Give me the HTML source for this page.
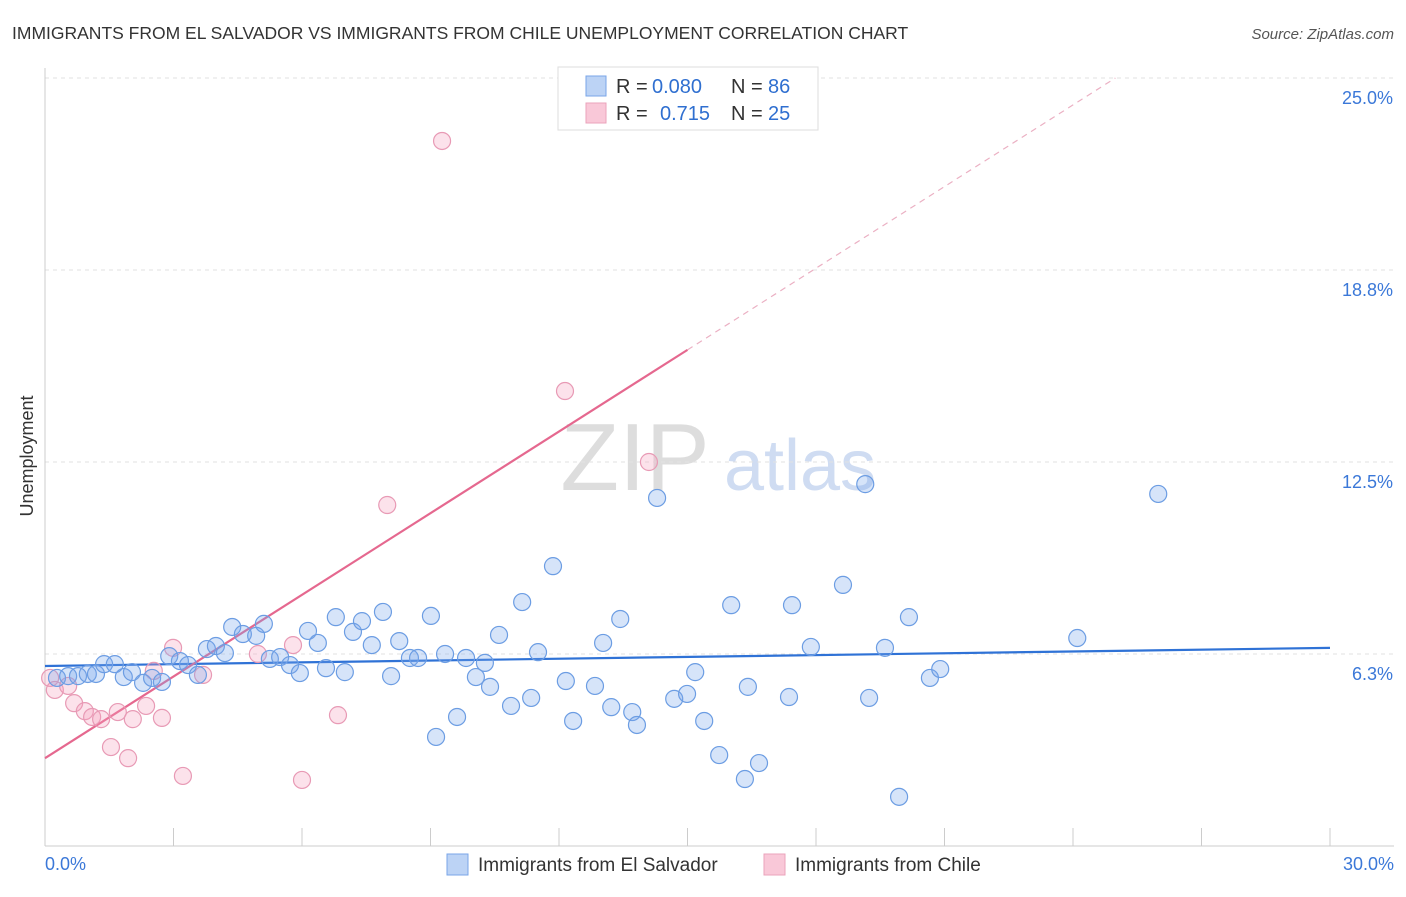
<!DOCTYPE html>
<html><head><meta charset="utf-8"><style>
body{margin:0;background:#fff;font-family:"Liberation Sans",sans-serif;}
svg text{font-family:"Liberation Sans",sans-serif;}
</style></head><body>
<svg id="chart" width="1406" height="892">
<text x="12" y="39" font-size="17.5" fill="#333">IMMIGRANTS FROM EL SALVADOR VS IMMIGRANTS FROM CHILE UNEMPLOYMENT CORRELATION CHART</text>
<text x="1394" y="39" font-size="15" fill="#555" font-style="italic" text-anchor="end">Source: ZipAtlas.com</text>
<text x="33" y="456" font-size="18" fill="#333" text-anchor="middle" transform="rotate(-90 33 456)">Unemployment</text>
<g><text x="635" y="490" font-size="96" fill="#ddd" font-family="Liberation Serif" text-anchor="middle">ZIP</text><text x="800" y="490" font-size="72" fill="#cfdcf2" text-anchor="middle">atlas</text></g>
<g id="grid"></g><g id="axes"></g><g id="trends"></g><g id="points"></g>
<g>
<rect x="558" y="67" width="260" height="63" fill="#fff" stroke="#ddd"/>
<rect x="586" y="76" width="20" height="20" fill="#bcd3f5" stroke="#7aa6e8"/>
<rect x="586" y="103" width="20" height="20" fill="#f9c8d8" stroke="#eba3bb"/>
<text x="616" y="93" font-size="20" fill="#333">R =</text>
<text x="652" y="93" font-size="20" fill="#2f6fd0">0.080</text>
<text x="731" y="93" font-size="20" fill="#333">N =</text>
<text x="768" y="93" font-size="20" fill="#2f6fd0">86</text>
<text x="616" y="120" font-size="20" fill="#333">R =</text>
<text x="660" y="120" font-size="20" fill="#2f6fd0">0.715</text>
<text x="731" y="120" font-size="20" fill="#333">N =</text>
<text x="768" y="120" font-size="20" fill="#2f6fd0">25</text>
</g>
<g>
<rect x="447" y="854" width="21" height="21" fill="#bcd3f5" stroke="#7aa6e8"/>
<text x="478" y="871" font-size="19" fill="#333">Immigrants from El Salvador</text>
<rect x="764" y="854" width="21" height="21" fill="#f9c8d8" stroke="#eba3bb"/>
<text x="795" y="871" font-size="19" fill="#333">Immigrants from Chile</text>
</g>
</svg>
<script>
const blueX=[0.28,0.54,0.77,1.00,1.19,1.38,1.63,1.84,2.03,2.29,2.50,2.73,2.90,3.15,3.34,3.57,3.78,3.99,4.20,4.37,4.62,4.93,5.11,5.25,5.49,5.72,5.95,6.14,6.37,6.56,6.79,7.00,7.19,7.40,7.63,7.89,8.08,8.27,8.52,8.71,9.01,9.13,9.34,9.62,9.83,10.06,10.27,10.39,10.60,10.88,11.14,11.35,11.51,11.86,12.16,12.33,12.84,13.03,13.22,13.43,13.71,13.82,14.29,14.69,14.99,15.18,15.39,15.74,16.02,16.34,16.41,16.67,17.37,17.44,17.88,18.63,19.15,19.24,19.61,19.94,20.17,20.66,20.90,24.10,25.99];
const blueY=[5.47,5.53,5.53,5.60,5.60,5.92,5.92,5.50,5.66,5.31,5.47,5.34,6.18,6.02,5.89,5.57,6.41,6.51,6.28,7.13,6.90,6.84,7.23,6.09,6.15,5.89,5.63,7.00,6.61,5.79,7.45,5.66,6.97,7.32,6.54,7.62,5.53,6.67,6.12,6.12,7.49,3.55,6.25,4.20,6.12,5.50,5.96,5.18,6.87,4.56,7.94,4.82,6.31,9.11,5.37,4.07,5.21,6.61,4.52,7.39,4.36,3.94,11.33,4.79,4.95,5.66,4.07,2.96,7.84,2.18,5.18,2.70,4.85,7.84,6.48,8.50,11.78,4.82,6.45,1.60,7.45,5.47,5.76,6.77,11.46];
const pinkX=[0.12,0.23,0.54,0.68,0.93,1.10,1.31,1.54,1.70,1.94,2.05,2.36,2.54,2.73,2.99,3.22,3.69,4.97,5.79,6.00,6.84,7.99,9.27,12.14,14.10];
const pinkY=[5.47,5.08,5.21,4.65,4.39,4.20,4.13,3.22,4.36,2.86,4.13,4.56,5.70,4.17,6.45,2.28,5.57,6.25,6.54,2.15,4.26,11.10,22.95,14.81,12.50];
const blueTrend=[5.86,6.45];
const pinkTrend=[2.86,16.15,25.0];
const pinkTrendX=[0,15,24.99];
const yTicks=[6.25,12.5,18.75,25.0];
const yTickLabels=["6.3%","12.5%","18.8%","25.0%"];
const xTicks=[0,3,6,9,12,15,18,21,24,27,30];
const NS="http://www.w3.org/2000/svg";
const X=v=>45+v*42.833, Y=v=>846-v*30.72;
function mk(tag,parent,attrs){const e=document.createElementNS(NS,tag);for(const k in attrs)e.setAttribute(k,attrs[k]);document.getElementById(parent).appendChild(e);return e;}
yTicks.forEach((t,i)=>{
 const g=mk('line','grid',{x1:45,x2:1394,y1:Y(t),y2:Y(t),stroke:'#e2e2e2','stroke-dasharray':'4,4'});
 
 
 const l=mk('text','axes',{x:1393,y:Y(t)+26,'font-size':18,fill:'#3b78d8','text-anchor':'end'});
 l.textContent=yTickLabels[i];
 
 
});
const ax=mk('line','axes',{x1:45,x2:1394,y1:846,y2:846,stroke:'#ccc'});


const ay=mk('line','axes',{x1:45,x2:45,y1:68,y2:846,stroke:'#ccc'});


xTicks.forEach(t=>{
 const k=mk('line','axes',{x1:X(t),x2:X(t),y1:828,y2:846,stroke:'#ccc'});
 
 
});
const xl0=mk('text','axes',{x:45,y:870,'font-size':18,fill:'#3b78d8'});xl0.textContent='0.0%';


const xl1=mk('text','axes',{x:1394,y:870,'font-size':18,fill:'#3b78d8','text-anchor':'end'});xl1.textContent='30.0%';


function dot(x,y,f,s,name){const c=mk('circle','points',{cx:X(x),cy:Y(y),r:8.5,fill:f,stroke:s,'stroke-width':1.2});
 
 }
pinkX.forEach((x,i)=>dot(x,pinkY[i],'rgba(244,160,190,0.3)','#e89ab5','chile-point'));
blueX.forEach((x,i)=>dot(x,blueY[i],'rgba(120,165,235,0.3)','#6c9de3','el-salvador-point'));
const bt=mk('line','trends',{x1:X(0),y1:Y(blueTrend[0]),x2:X(30),y2:Y(blueTrend[1]),stroke:'#2f72d6','stroke-width':2.2});


const pt=mk('line','trends',{x1:X(pinkTrendX[0]),y1:Y(pinkTrend[0]),x2:X(pinkTrendX[1]),y2:Y(pinkTrend[1]),stroke:'#e5688f','stroke-width':2.2});


const pd=mk('line','trends',{x1:X(pinkTrendX[1]),y1:Y(pinkTrend[1]),x2:X(pinkTrendX[2]),y2:Y(pinkTrend[2]),stroke:'#ebb0c3','stroke-width':1.2,'stroke-dasharray':'6,5'});


</script>
</body></html>
